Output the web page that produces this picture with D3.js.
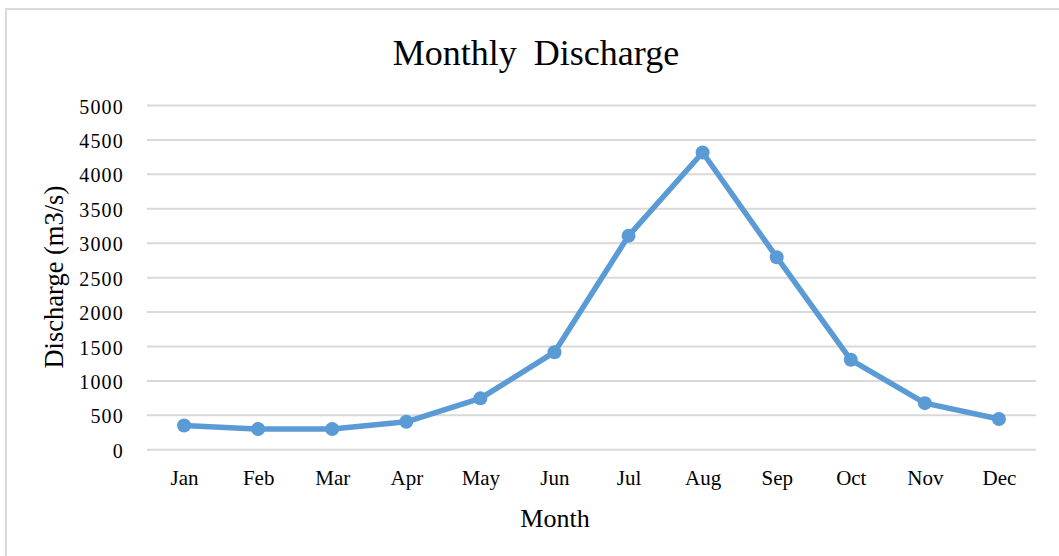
<!DOCTYPE html>
<html>
<head>
<meta charset="utf-8">
<script src="https://cdn.jsdelivr.net/npm/d3@7"></script>
<style>
  body { margin: 0; background: #fff; }
  svg { display: block; font-family: "Liberation Serif", "Times New Roman", serif; }
</style>
</head>
<body>
<script>
var months = ['Jan', 'Feb', 'Mar', 'Apr', 'May', 'Jun', 'Jul', 'Aug', 'Sep', 'Oct', 'Nov', 'Dec'];
var discharge = [345, 295, 295, 400, 740, 1410, 3100, 4310, 2790, 1300, 670, 440];
var yTicks = [0, 500, 1000, 1500, 2000, 2500, 3000, 3500, 4000, 4500, 5000];

var w = 1059;
var h = 556;
// plot area (note: "top" is a reserved window property, so prefixed names)
var plotLeft = 147, plotRight = 1036, plotTop = 105, plotBottom = 449.3;

var svg = d3.select('body').append('svg')
  .attr('width', w)
  .attr('height', h);

// chart frame (right and bottom edges fall outside the picture)
svg.append('rect')
  .attr('x', 6).attr('y', 9)
  .attr('width', w + 20).attr('height', h + 20)
  .attr('fill', 'none')
  .attr('stroke', '#d9d9d9')
  .attr('stroke-width', 2);

var x = d3.scalePoint()
  .domain(months)
  .range([plotLeft, plotRight])
  .padding(0.5);

var y = d3.scaleLinear()
  .domain([0, 5000])
  .range([plotBottom, plotTop]);

// y axis with gridlines
var yAxis = svg.append('g')
  .attr('transform', 'translate(' + plotLeft + ',0)')
  .call(d3.axisLeft(y)
    .tickValues(yTicks)
    .tickFormat(d3.format('d'))
    .tickSize(-(plotRight - plotLeft))
    .tickPadding(23));
yAxis.select('.domain').remove();
yAxis.selectAll('.tick line')
  .attr('stroke', '#d9d9d9')
  .attr('stroke-width', 2);
yAxis.selectAll('.tick text')
  .attr('font-family', '"Liberation Serif", serif')
  .attr('font-size', 20)
  .attr('letter-spacing', 1.2)
  .attr('fill', '#000')
  .attr('dy', '0.4em');

// x axis labels
var xAxis = svg.append('g')
  .attr('transform', 'translate(0,' + plotBottom + ')')
  .call(d3.axisBottom(x).tickSize(0).tickPadding(0));
xAxis.select('.domain').remove();
xAxis.selectAll('.tick text')
  .attr('font-family', '"Liberation Serif", serif')
  .attr('font-size', 21)
  .attr('fill', '#000')
  .attr('y', 36)
  .attr('dy', 0);

// line + markers
var line = d3.line()
  .x(function(d, i) { return x(months[i]); })
  .y(function(d) { return y(d); });

svg.append('path')
  .datum(discharge)
  .attr('d', line)
  .attr('fill', 'none')
  .attr('stroke', '#5b9bd5')
  .attr('stroke-width', 5.5)
  .attr('stroke-linejoin', 'round');

svg.selectAll('circle.pt')
  .data(discharge)
  .enter()
  .append('circle')
    .attr('class', 'pt')
    .attr('cx', function(d, i) { return x(months[i]); })
    .attr('cy', function(d) { return y(d); })
    .attr('r', 7)
    .attr('fill', '#5b9bd5');

// titles
svg.append('text')
  .attr('x', 536)
  .attr('y', 65)
  .attr('text-anchor', 'middle')
  .attr('font-size', 36)
  .attr('word-spacing', 8)
  .attr('fill', '#000')
  .text('Monthly Discharge');

svg.append('text')
  .attr('x', 555)
  .attr('y', 526.5)
  .attr('text-anchor', 'middle')
  .attr('font-size', 26)
  .attr('fill', '#000')
  .text('Month');

svg.append('text')
  .attr('transform', 'translate(63,' + ((plotTop + plotBottom) / 2) + ') rotate(-90)')
  .attr('text-anchor', 'middle')
  .attr('font-size', 26.5)
  .attr('fill', '#000')
  .text('Discharge (m3/s)');
</script>
</body>
</html>
